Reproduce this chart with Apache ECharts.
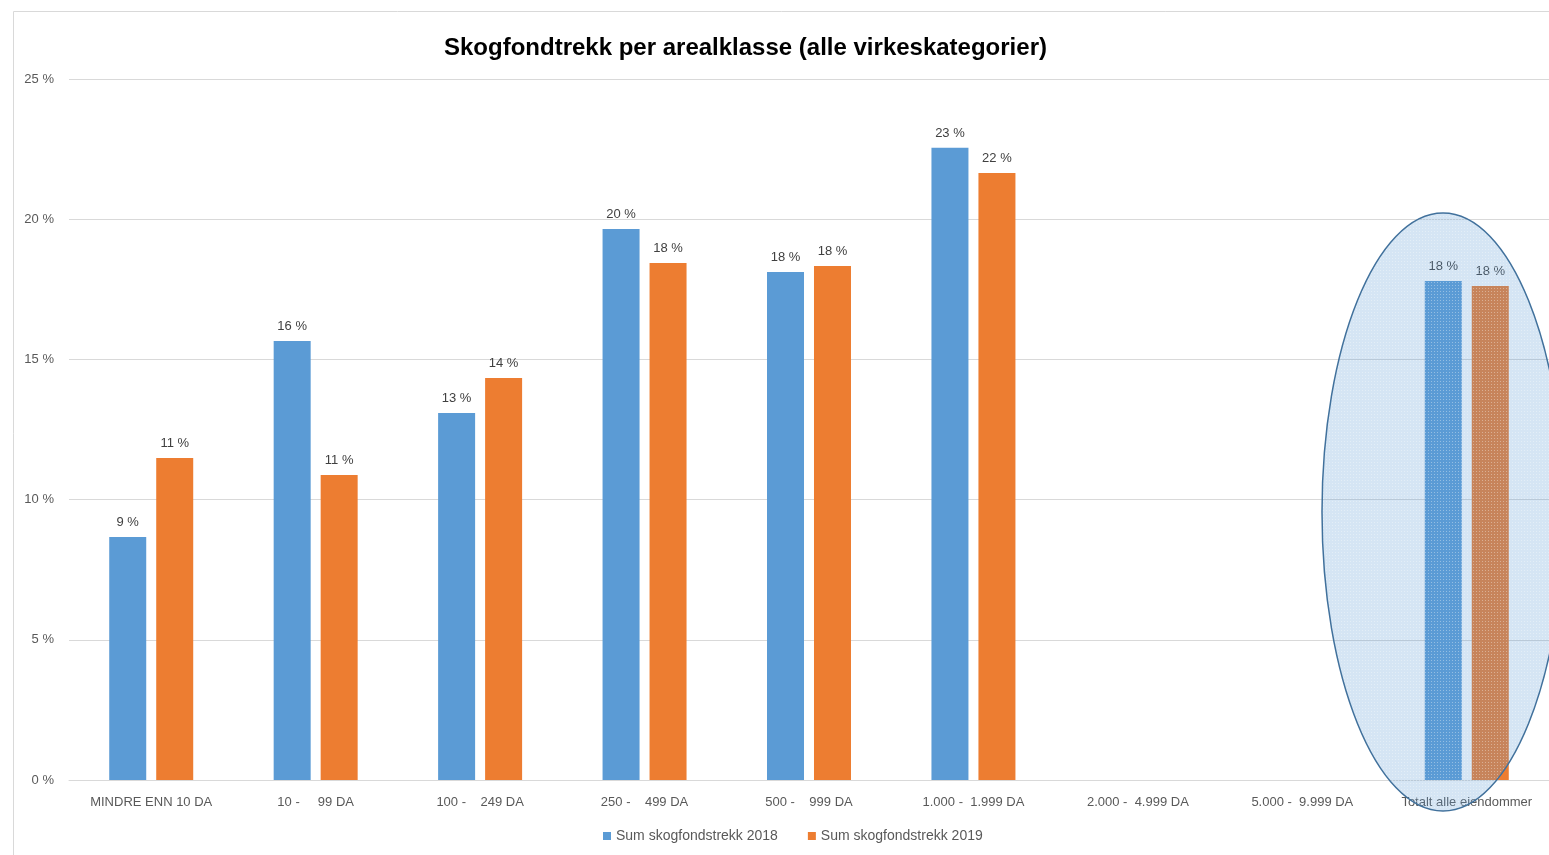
<!DOCTYPE html>
<html>
<head>
<meta charset="utf-8">
<script src="https://cdn.jsdelivr.net/npm/echarts@6/dist/echarts.min.js"></script>
<style>
html,body{margin:0;padding:0;background:#fff;}
#c{width:1549px;height:855px;}
</style>
</head>
<body>
<div id="c"></div>
<script>
const title = 'Skogfondtrekk per arealklasse (alle virkeskategorier)';
const categories = ['MINDRE ENN 10 DA', '10 -     99 DA', '100 -    249 DA', '250 -    499 DA', '500 -    999 DA', '1.000 -  1.999 DA', '2.000 -  4.999 DA', '5.000 -  9.999 DA', 'Totalt alle eiendommer'];
const seriesNames = ['Sum skogfondstrekk 2018', 'Sum skogfondstrekk 2019'];
const values2018 = [8.67, 15.66, 13.09, 19.65, 18.12, 22.55, null, null, 17.80];
const values2019 = [11.48, 10.88, 14.34, 18.44, 18.33, 21.65, null, null, 17.62];
const yTicks = { min: 0, max: 25, interval: 5 };

const FONT = '"Liberation Sans", "Noto Sans", sans-serif';
const chart = echarts.init(document.getElementById('c'), null, { renderer: 'canvas' });

// dotted pattern for the highlight ellipse
const pat = document.createElement('canvas');
pat.width = 3; pat.height = 3;
const pc = pat.getContext('2d');
pc.fillStyle = 'rgba(91,155,213,0.26)';
pc.fillRect(0, 0, 3, 3);
pc.fillStyle = 'rgba(255,255,255,0.35)';
pc.fillRect(0, 0, 1, 1);

const labelCfg = {
  show: true,
  position: 'top',
  distance: 8,
  color: '#404040',
  fontSize: 13,
  fontFamily: FONT,
  formatter: p => Math.round(p.value) + ' %'
};

chart.setOption({
  animation: false,
  title: {
    text: title,
    left: 439,
    top: 31,
    textStyle: { fontFamily: FONT, fontWeight: 'bold', fontSize: 24, color: '#000' }
  },
  legend: {
    bottom: 7,
    left: 598,
    itemWidth: 8,
    itemHeight: 8,
    itemGap: 30,
    icon: 'rect',
    textStyle: { fontFamily: FONT, fontSize: 14, color: '#595959' },
    data: seriesNames
  },
  grid: { left: 69, right: 0, top: 79, bottom: 75 },
  xAxis: {
    type: 'category',
    data: categories,
    axisLine: { lineStyle: { color: '#D9D9D9', width: 1 } },
    axisTick: { show: false },
    axisLabel: { color: '#595959', fontSize: 13, fontFamily: FONT, margin: 16, interval: 0 }
  },
  yAxis: {
    type: 'value',
    min: yTicks.min,
    max: yTicks.max,
    interval: yTicks.interval,
    axisLine: { show: false },
    axisTick: { show: false },
    splitLine: { lineStyle: { color: '#D9D9D9', width: 1 } },
    axisLabel: { color: '#595959', fontSize: 13, fontFamily: FONT, margin: 15, formatter: v => v + ' %' }
  },
  series: [
    { name: seriesNames[0], type: 'bar', data: values2018, barWidth: 37, barGap: '27%', itemStyle: { color: '#5B9BD5' }, label: labelCfg },
    { name: seriesNames[1], type: 'bar', data: values2019, barWidth: 37, barGap: '27%', itemStyle: { color: '#ED7D31' }, label: labelCfg }
  ],
  graphic: [
    { type: 'rect', shape: { x: 13.5, y: 11.5, width: 1600, height: 900 }, style: { fill: 'none', stroke: '#D9D9D9', lineWidth: 1 }, z: 0, silent: true },
    { type: 'ellipse', shape: { cx: 1443, cy: 512, rx: 121, ry: 299 }, style: { fill: { image: pat, repeat: 'repeat' }, stroke: '#41719C', lineWidth: 1.5 }, z: 100, silent: true }
  ]
});
</script>
</body>
</html>
